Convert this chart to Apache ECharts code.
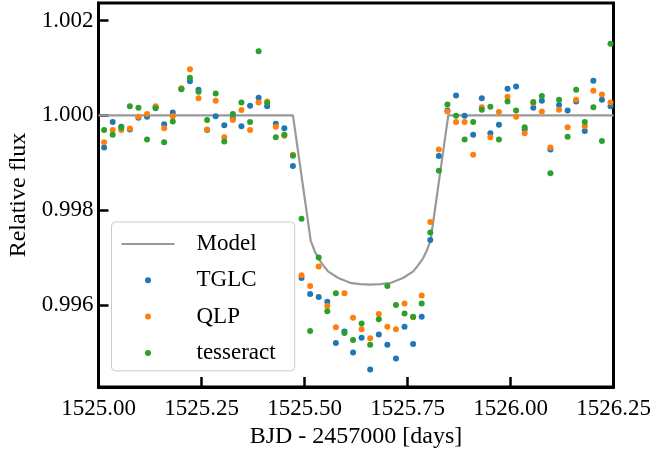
<!DOCTYPE html>
<html>
<head>
<meta charset="utf-8">
<script src="https://cdn.jsdelivr.net/npm/echarts@6.0.0/dist/echarts.min.js"></script>
<style>
  html, body { margin: 0; padding: 0; background: #ffffff; }
  #chart { width: 653px; height: 460px; }
</style>
</head>
<body>
<div id="chart"></div>
<script>
// Observation times (BJD - 2457000), 30-minute cadence
const times = [
  1525.0136, 1525.0344, 1525.0553, 1525.0761, 1525.0969, 1525.1178, 1525.1386, 1525.1594,
  1525.1803, 1525.2011, 1525.2219, 1525.2428, 1525.2636, 1525.2844, 1525.3053, 1525.3261,
  1525.3469, 1525.3678, 1525.3886, 1525.4094, 1525.4303, 1525.4511, 1525.4719, 1525.4928,
  1525.5136, 1525.5344, 1525.5553, 1525.5761, 1525.5969, 1525.6178, 1525.6386, 1525.6594,
  1525.6803, 1525.7011, 1525.7219, 1525.7428, 1525.7636, 1525.7844, 1525.8053, 1525.8261,
  1525.8469, 1525.8678, 1525.8886, 1525.9094, 1525.9303, 1525.9511, 1525.9719, 1525.9928,
  1526.0136, 1526.0344, 1526.0553, 1526.0761, 1526.0969, 1526.1178, 1526.1386, 1526.1594,
  1526.1803, 1526.2011, 1526.2219, 1526.2428
];

// Relative flux per pipeline
const tglcFlux = [
  0.99932, 0.99986, 0.99976, 0.99970, 0.99995, 0.99997, 1.00017, 0.99981,
  1.00006, 1.00056, 1.00072, 1.00054, 0.99969, 0.99998, 0.99979, 0.99994,
  0.99977, 1.00020, 1.00037, 1.00019, 0.99982, 0.99973, 0.99893, 0.99657,
  0.99623, 0.99617, 0.99607, 0.99520, 0.99544, 0.99500, 0.99531, 0.99464,
  0.99538, 0.99516, 0.99487, 0.99554, 0.99518, 0.99575, 0.99737, 0.99914,
  1.00010, 1.00042, 0.99999, 0.99959, 1.00036, 0.99962, 0.99980, 1.00056,
  1.00061, 0.99970, 1.00016, 1.00031, 0.99928, 1.00022, 1.00010, 1.00029,
  0.99967, 1.00073, 1.00033, 1.00019
];

const qlpFlux = [
  0.99943, 0.99969, 0.99969, 0.99972, 0.99997, 1.00003, 1.00019, 0.99973,
  0.99998, 1.00057, 1.00097, 1.00036, 0.99970, 1.00031, 0.99954, 0.99990,
  1.00011, 0.99969, 1.00027, 1.00029, 0.99976, 0.99957, 0.99917, 0.99663,
  0.99640, 0.99681, 0.99598, 0.99553, 0.99625, 0.99573, 0.99549, 0.99530,
  0.99581, 0.99554, 0.99549, 0.99603, 0.99574, 0.99620, 0.99775, 0.99928,
  1.00008, 0.99986, 0.99986, 0.99917, 1.00017, 0.99954, 1.00007, 1.00039,
  0.99997, 0.99962, 1.00026, 1.00008, 0.99932, 1.00012, 0.99975, 1.00033,
  0.99977, 1.00052, 1.00044, 1.00027
];

const tesseractFlux = [
  0.99969, 0.99959, 0.99974, 1.00019, 1.00016, 0.99949, 1.00015, 0.99943,
  0.99987, 1.00055, 1.00079, 1.00050, 0.99990, 1.00046, 0.99945, 1.00003,
  1.00027, 0.99986, 1.00135, 1.00026, 0.99954, 0.99959, 0.99915, 0.99782,
  0.99545, 0.99700, 0.99587, 0.99625, 0.99541, 0.99526, 0.99561, 0.99516,
  0.99570, 0.99640, 0.99600, 0.99582, 0.99575, 0.99603, 0.99753, 0.99883,
  1.00023, 0.99999, 0.99949, 0.99986, 1.00012, 1.00018, 0.99949, 1.00029,
  1.00010, 0.99975, 1.00028, 1.00041, 0.99878, 1.00033, 0.99955, 1.00054,
  0.99986, 1.00017, 0.99946, 1.00151
];

// Transit model curve
const modelTimes = [
  1525.000, 1525.472, 1525.515, 1525.524, 1525.533, 1525.545, 1525.557, 1525.582,
  1525.614, 1525.636, 1525.660, 1525.684, 1525.707, 1525.739, 1525.764, 1525.776,
  1525.788, 1525.797, 1525.806, 1525.849, 1526.250
];
const modelFlux = [
  1.00000, 1.00000, 0.99736, 0.99715, 0.99699, 0.99684, 0.99671, 0.99657,
  0.99646, 0.99644, 0.99643, 0.99644, 0.99646, 0.99657, 0.99671, 0.99684,
  0.99699, 0.99715, 0.99736, 1.00000, 1.00000
];

const xTicks = [1525.00, 1525.25, 1525.50, 1525.75, 1526.00, 1526.25];
const yTicks = [0.996, 0.998, 1.000, 1.002];

const seriesNames = ['Model', 'TGLC', 'QLP', 'tesseract'];
const pointColors = ['#1f77b4', '#ff7f0e', '#2ca02c'];
const modelColor = '#999999';

const serif = '"Liberation Serif", "DejaVu Serif", serif';

const pairs = (xs, ys) => xs.map((x, i) => [x, ys[i]]);

const scatterSeries = [tglcFlux, qlpFlux, tesseractFlux].map((flux, i) => ({
  name: seriesNames[i + 1],
  type: 'scatter',
  data: pairs(times, flux),
  symbol: 'circle',
  symbolSize: 6,
  itemStyle: { color: pointColors[i], opacity: 1 },
  emphasis: { disabled: true },
  clip: true,
  z: 3
}));

const chart = echarts.init(document.getElementById('chart'), null, { renderer: 'canvas' });

chart.setOption({
  animation: false,
  backgroundColor: '#ffffff',
  grid: {
    left: 98.5, right: 39.5, top: 3, bottom: 73,
    outerBoundsMode: 'none',
    containLabel: false,
    show: true, borderColor: '#000000', borderWidth: 3, backgroundColor: 'transparent'
  },
  xAxis: {
    type: 'value',
    min: 1525.0, max: 1526.25, interval: 0.25,
    axisLine: { show: true, onZero: false, lineStyle: { color: '#000000', width: 3 } },
    axisTick: { show: true, inside: true, length: 10, lineStyle: { color: '#000000', width: 2.5 } },
    axisLabel: {
      customValues: xTicks,
      showMinLabel: true, showMaxLabel: true,
      formatter: v => v.toFixed(2),
      fontFamily: serif, fontSize: 23, color: '#000000', margin: 10
    },
    splitLine: { show: false },
    name: 'BJD - 2457000 [days]',
    nameLocation: 'middle',
    nameGap: 35,
    nameTextStyle: { fontFamily: serif, fontSize: 24, color: '#000000' }
  },
  yAxis: {
    type: 'value',
    min: 0.994271, max: 1.002369,
    axisLine: { show: true, onZero: false, lineStyle: { color: '#000000', width: 3 } },
    axisTick: { show: true, inside: true, length: 10, customValues: yTicks, lineStyle: { color: '#000000', width: 2.5 } },
    axisLabel: {
      customValues: yTicks,
      formatter: v => v.toFixed(3),
      fontFamily: serif, fontSize: 23, color: '#000000', margin: 5
    },
    splitLine: { show: false },
    name: 'Relative flux',
    nameLocation: 'middle',
    nameGap: 63,
    nameTextStyle: { fontFamily: serif, fontSize: 24, color: '#000000' }
  },
  legend: {
    orient: 'vertical',
    left: 111.5, top: 222,
    padding: [9, 19, 5, 9],
    itemGap: 10.3,
    itemWidth: 53,
    itemHeight: 6,
    selectedMode: false,
    backgroundColor: 'rgba(255,255,255,0.8)',
    borderColor: '#cccccc',
    borderWidth: 1,
    borderRadius: 4,
    textStyle: {
      fontFamily: serif, fontSize: 23, color: '#000000',
      lineHeight: 26, padding: [0, 0, 0, 17]
    },
    data: [
      { name: 'Model', itemStyle: { opacity: 0 } },
      { name: 'TGLC', icon: 'circle' },
      { name: 'QLP', icon: 'circle' },
      { name: 'tesseract', icon: 'circle' }
    ]
  },
  series: [
    {
      name: seriesNames[0],
      type: 'line',
      data: pairs(modelTimes, modelFlux),
      symbol: 'none',
      smooth: false,
      lineStyle: { color: modelColor, width: 2.2 },
      itemStyle: { color: modelColor },
      emphasis: { disabled: true },
      z: 2
    },
    ...scatterSeries
  ]
});
</script>
</body>
</html>
